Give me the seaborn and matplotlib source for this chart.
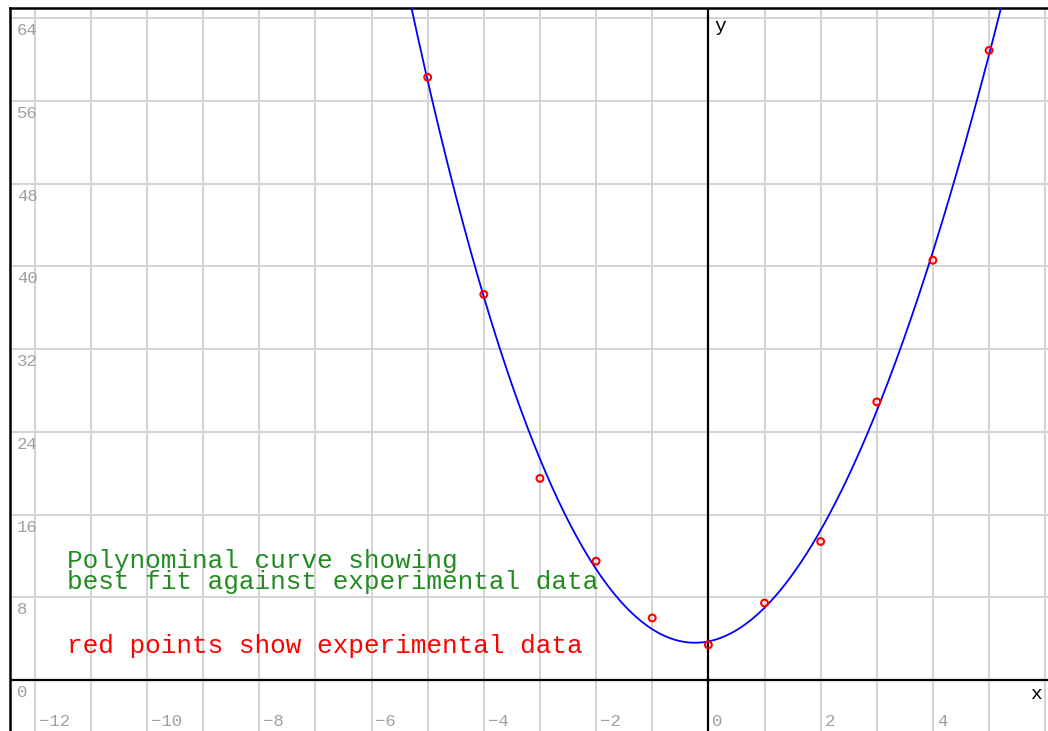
import numpy as np
import pandas as pd
import matplotlib
matplotlib.use("Agg")
import matplotlib.pyplot as plt
import seaborn as sns

x_data = [-5, -4, -3, -2, -1, 0, 1, 2, 3, 4, 5]
y_data = [58.3, 37.3, 19.5, 11.5, 6.0, 3.4, 7.45, 13.4, 26.9, 40.6, 60.9]

x_ticks = list(range(-12, 7))
x_labels = list(range(-12, 5, 2))
y_ticks = list(range(0, 65, 8))

FONT = "Liberation Mono"
GRID = "#d3d3d3"
LABEL = "#a0a0a0"

sns.set_style("white")
plt.rcParams["font.family"] = [FONT, "DejaVu Sans Mono"]

fig = plt.figure(figsize=(10.48, 7.31), dpi=100)
ax = fig.add_axes([10 / 1048, 0, 1038 / 1048, 723 / 731])
ax.set_xlim(-12.44, 6.05)
ax.set_ylim(-4.93, 65.0)

# best-fit polynomial through the experimental points
coef = np.polyfit(x_data, y_data, 3)
xs = np.linspace(-5.6, 5.4, 400)
curve = pd.DataFrame({"x": xs, "y": np.polyval(coef, xs)})
pts = pd.DataFrame({"x": x_data, "y": y_data})

ax.set_xticks(x_ticks)
ax.set_yticks(y_ticks)
ax.grid(True, color=GRID, lw=1.4, zorder=0)
ax.set_axisbelow(True)
ax.tick_params(length=0, labelbottom=False, labelleft=False)

ax.axhline(0, color="black", lw=1.6, zorder=1)
ax.axvline(0, color="black", lw=1.6, zorder=1)

sns.lineplot(data=curve, x="x", y="y", color="#0000ff", lw=1.3, ax=ax, zorder=3)
sns.scatterplot(data=pts, x="x", y="y", marker="o", s=24, facecolor="none",
                edgecolor="#ff0000", linewidth=1.5, ax=ax, zorder=4)
ax.set_xlabel("")
ax.set_ylabel("")

for s in ["right", "bottom"]:
    ax.spines[s].set_visible(False)
for s in ["left", "top"]:
    ax.spines[s].set_color("black")
    ax.spines[s].set_linewidth(1.8)

for v in x_labels:
    ax.text(v + 0.07, -4.0, str(v).replace("-", "\u2212"), color=LABEL,
            fontsize=12.5, ha="left", va="center")
for v in y_ticks:
    ax.text(-12.32, v - 1.2, str(v), color=LABEL, fontsize=12.5,
            ha="left", va="center")

ax.text(0.1, 63.2, "y", fontsize=14, color="black", ha="left", va="center")
ax.text(5.74, -1.4, "x", fontsize=14, color="black", ha="left", va="center")

ax.text(-11.42, 11.55, "Polynominal curve showing", color="#228b22",
        fontsize=18.8, ha="left", va="center")
ax.text(-11.42, 9.45, "best fit against experimental data", color="#228b22",
        fontsize=18.8, ha="left", va="center")
ax.text(-11.42, 3.3, "red points show experimental data", color="#ff0000",
        fontsize=18.8, ha="left", va="center")

fig.savefig("out.png", dpi=100)
